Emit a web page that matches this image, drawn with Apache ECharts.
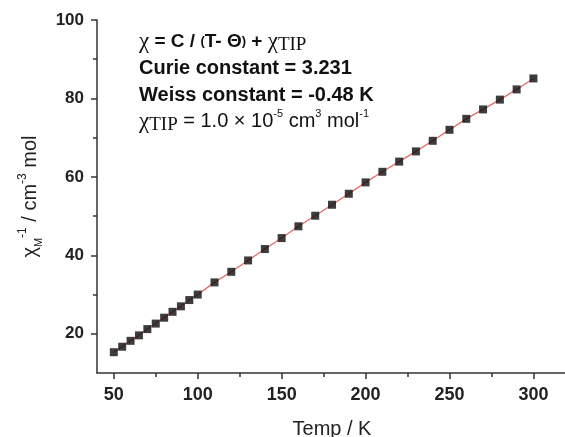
<!DOCTYPE html>
<html>
<head>
<meta charset="utf-8">
<script src="https://cdn.jsdelivr.net/npm/echarts@6/dist/echarts.min.js"></script>
<style>
  html, body { margin: 0; padding: 0; background: #fff; }
  #chart { width: 565px; height: 437px; }
</style>
</head>
<body>
<div id="chart"></div>
<script>
// temperatures (K) and measured inverse susceptibility
var temps = [50, 55, 60, 65, 70, 75, 80, 85, 90, 95, 100,
  110, 120, 130, 140, 150, 160, 170, 180, 190, 200,
  210, 220, 230, 240, 250, 260, 270, 280, 290, 300];
var invChi = [15.3, 16.7, 18.2, 19.6, 21.2, 22.6, 24.1, 25.6, 27.0, 28.6, 30.0,
  33.1, 35.8, 38.7, 41.6, 44.4, 47.4, 50.1, 52.9, 55.7, 58.6,
  61.3, 63.9, 66.5, 69.2, 72.0, 74.8, 77.2, 79.7, 82.3, 85.1];
// tick positions
var xMajor = [50, 100, 150, 200, 250, 300];
var xMinor = [75, 125, 175, 225, 275];
var yMajor = [20, 40, 60, 80, 100];
var yMinor = [30, 50, 70, 90];

var pts = temps.map(function (t, i) { return [t, invChi[i]]; });

var axisCol = '#333';
var font = 'Liberation Sans, Arial, sans-serif';
var serif = 'Liberation Serif, Times New Roman, serif';

var myChart = echarts.init(document.getElementById('chart'));

var option = {
  backgroundColor: '#fff',
  animation: false,
  grid: { left: 97, right: -2, top: 20, bottom: 64, containLabel: false, outerBoundsMode: 'none' },
  xAxis: [{
    type: 'value', min: 40, max: 320,
    name: 'Temp / K', nameLocation: 'middle', nameGap: 46,
    nameTextStyle: { fontFamily: font, fontSize: 20, color: '#222' },
    axisLine: { lineStyle: { color: axisCol, width: 1.5 } },
    axisTick: { customValues: xMajor, length: 6, lineStyle: { color: axisCol, width: 1.5 } },
    axisLabel: { customValues: xMajor, margin: 13, fontFamily: font, fontSize: 18, fontWeight: 'bold', color: '#222' },
    splitLine: { show: false }
  }, {
    type: 'value', min: 40, max: 320, position: 'bottom',
    axisLine: { show: false },
    axisTick: { customValues: xMinor, length: 4, lineStyle: { color: axisCol, width: 1.5 } },
    axisLabel: { show: false },
    splitLine: { show: false }
  }],
  yAxis: [{
    type: 'value', min: 10, max: 100,
    name: '{n|χ}{sub|M}{sup|-1}{n| / cm}{sup|-3}{n| mol}',
    nameLocation: 'middle', nameGap: 42, nameRotate: 90,
    nameTextStyle: {
      fontFamily: font, fontSize: 20, color: '#222',
      rich: {
        n: { fontFamily: font, fontSize: 20, color: '#222', lineHeight: 28, verticalAlign: 'middle' },
        sup: { fontFamily: font, fontSize: 12, color: '#222', verticalAlign: 'top' },
        sub: { fontFamily: font, fontSize: 11, color: '#222', verticalAlign: 'bottom' }
      }
    },
    axisLine: { lineStyle: { color: axisCol, width: 1.5 } },
    axisTick: { customValues: yMajor, length: 6, lineStyle: { color: axisCol, width: 1.5 } },
    axisLabel: { customValues: yMajor, margin: 13, fontFamily: font, fontSize: 17, fontWeight: 'bold', color: '#222' },
    splitLine: { show: false }
  }, {
    type: 'value', min: 10, max: 100, position: 'left', offset: 0,
    axisLine: { show: false },
    axisTick: { customValues: yMinor, length: 4, lineStyle: { color: axisCol, width: 1.5 } },
    axisLabel: { show: false },
    splitLine: { show: false }
  }],
  graphic: [
    {
      type: 'text', left: 139, top: 30,
      style: {
        text: '{c|χ}{b| = C / }{s|(}{b|T- Θ}{s|)}{b| + }{c|χ}{tip|TIP}',
        rich: {
          b: { fontFamily: font, fontSize: 19, fontWeight: 'bold', fill: '#111', lineHeight: 27, verticalAlign: 'middle' },
          s: { fontFamily: font, fontSize: 13, fontWeight: 'bold', fill: '#111', verticalAlign: 'middle' },
          c: { fontFamily: serif, fontSize: 23, fill: '#111', verticalAlign: 'middle' },
          tip: { fontFamily: serif, fontSize: 19, fill: '#111', verticalAlign: 'bottom' }
        }
      }
    },
    {
      type: 'text', left: 139, top: 58,
      style: { text: 'Curie constant = 3.231', font: 'bold 20px ' + font, fill: '#111' }
    },
    {
      type: 'text', left: 139, top: 85,
      style: { text: 'Weiss constant = -0.48 K', font: 'bold 20px ' + font, fill: '#111' }
    },
    {
      type: 'text', left: 139, top: 108,
      style: {
        text: '{c|χ}{tip|TIP}{n| = 1.0 × 10}{sup|-5}{n| cm}{sup|3}{n| mol}{sup|-1}',
        rich: {
          n: { fontFamily: font, fontSize: 20, fill: '#111', lineHeight: 27, verticalAlign: 'middle' },
          sup: { fontFamily: font, fontSize: 11, fill: '#111', verticalAlign: 'top' },
          c: { fontFamily: serif, fontSize: 23, fill: '#111', verticalAlign: 'middle' },
          tip: { fontFamily: serif, fontSize: 19, fill: '#111', verticalAlign: 'bottom' }
        }
      }
    }
  ],
  series: [
    {
      type: 'line', data: pts, showSymbol: false, symbol: 'none',
      lineStyle: { color: '#e36b68', width: 1.3 }, z: 2
    },
    {
      type: 'scatter', data: pts, symbol: 'rect', symbolSize: 8,
      itemStyle: { color: '#0d0d0d' }, z: 3
    }
  ]
};
myChart.setOption(option);
</script>
</body>
</html>
